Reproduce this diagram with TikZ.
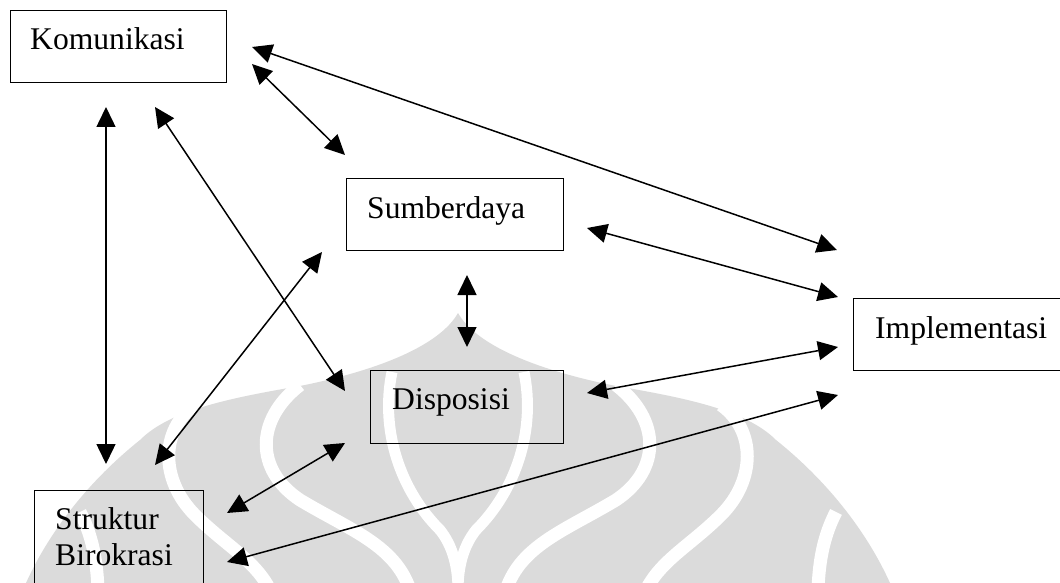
\documentclass[tikz,border=0pt]{standalone}
\usepackage{fontspec}
\setmainfont{Liberation Serif}
\usetikzlibrary{arrows.meta,calc}
\definecolor{wm}{RGB}{219,219,219}
\tikzset{
  box/.style={draw=black, line width=1.3pt, anchor=north west, inner sep=0pt},
  lbl/.style={anchor=base west, inner sep=0pt, text=black, font=\fontsize{31.6}{36}\selectfont},
  link/.style={draw=black, line width=1.5pt, {Triangle[length=20pt,width=19pt]}-{Triangle[length=20pt,width=19pt]}},
  band/.style={draw=white, line width=13pt}
}
\begin{document}
\begin{tikzpicture}[x=1pt,y=-1pt]
\clip (0,0) rectangle (1060,583);
\fill[white] (0,0) rectangle (1060,583);
% watermark
\fill[wm] (458,313) .. controls (440,345) and (380,370) .. (300,386)
  .. controls (230,398) and (170,410) .. (140,440)
  .. controls (90,480) and (50,530) .. (26,583) -- (890,583)
  .. controls (866,530) and (826,480) .. (776,440)
  .. controls (746,410) and (686,398) .. (616,386)
  .. controls (536,370) and (476,345) .. (458,313) -- cycle;
\draw[band] (80,512) .. controls (92,535) and (97,560) .. (98,590);
\draw[band] (836,512) .. controls (824,535) and (819,560) .. (818,590);
\draw[band] (195,405) .. controls (160,430) and (160,480) .. (195,515) .. controls (225,545) and (255,560) .. (270,590);
\draw[band] (721,405) .. controls (756,430) and (756,480) .. (721,515) .. controls (691,545) and (661,560) .. (646,590);
\draw[band] (300,385) .. controls (255,420) and (255,470) .. (300,500) .. controls (350,530) and (395,545) .. (410,590);
\draw[band] (616,385) .. controls (661,420) and (661,470) .. (616,500) .. controls (566,530) and (521,545) .. (506,590);
\draw[band, line width=11pt] (392,372) .. controls (380,430) and (400,490) .. (440,530) .. controls (452,545) and (458,565) .. (458,590);
\draw[band, line width=11pt] (524,372) .. controls (536,430) and (516,490) .. (476,530) .. controls (464,545) and (458,565) .. (458,590);
% boxes
\node[box, minimum width=216pt, minimum height=72pt] (kom) at (10,10) {};
\node[box, minimum width=217pt, minimum height=72pt] (sum) at (346,178) {};
\node[box, minimum width=193pt, minimum height=73pt] (dis) at (370,370) {};
\node[box, minimum width=169pt, minimum height=120pt] (str) at (34,490) {};
\node[box, minimum width=250pt, minimum height=72pt] (imp) at (853,298) {};
% texts
\node[lbl] (komt) at ($(kom.north west)+(20,40)$) {Komunikasi};
\node[lbl] (sumt) at ($(sum.north west)+(21,40)$) {Sumberdaya};
\node[lbl] (dist) at ($(dis.north west)+(22,39)$) {Disposisi};
\node[lbl] (strt) at ($(str.north west)+(21,39)$) {Struktur};
\node[lbl] (strb) at ($(str.north west)+(21,75)$) {Birokrasi};
\node[lbl] (impt) at ($(imp.north west)+(22,40)$) {Implementasi};
% connector ends
\coordinate (k1) at (252,47);  \coordinate (i1) at (837,250);
\coordinate (k2) at (252,64);  \coordinate (s1) at (345,155);
\coordinate (k3) at (106,107); \coordinate (st1) at (106,464);
\coordinate (k4) at (155,107); \coordinate (d1) at (345,391);
\coordinate (s2) at (322,252); \coordinate (st2) at (155,465);
\coordinate (s3) at (587,228); \coordinate (i2) at (838,297);
\coordinate (s4) at (467,275); \coordinate (d2) at (467,347);
\coordinate (d3) at (587,393); \coordinate (i3) at (838,347);
\coordinate (d4) at (345,443); \coordinate (st3) at (227,513);
\coordinate (st4) at (227,562); \coordinate (i4) at (838,395);
% connectors
\draw[link] (k1) -- (i1);
\draw[link] (k2) -- (s1);
\draw[link] (k3) -- (st1);
\draw[link] (k4) -- (d1);
\draw[link] (s2) -- (st2);
\draw[link] (s3) -- (i2);
\draw[link] (s4) -- (d2);
\draw[link] (d3) -- (i3);
\draw[link] (d4) -- (st3);
\draw[link] (st4) -- (i4);
\end{tikzpicture}
\end{document}
